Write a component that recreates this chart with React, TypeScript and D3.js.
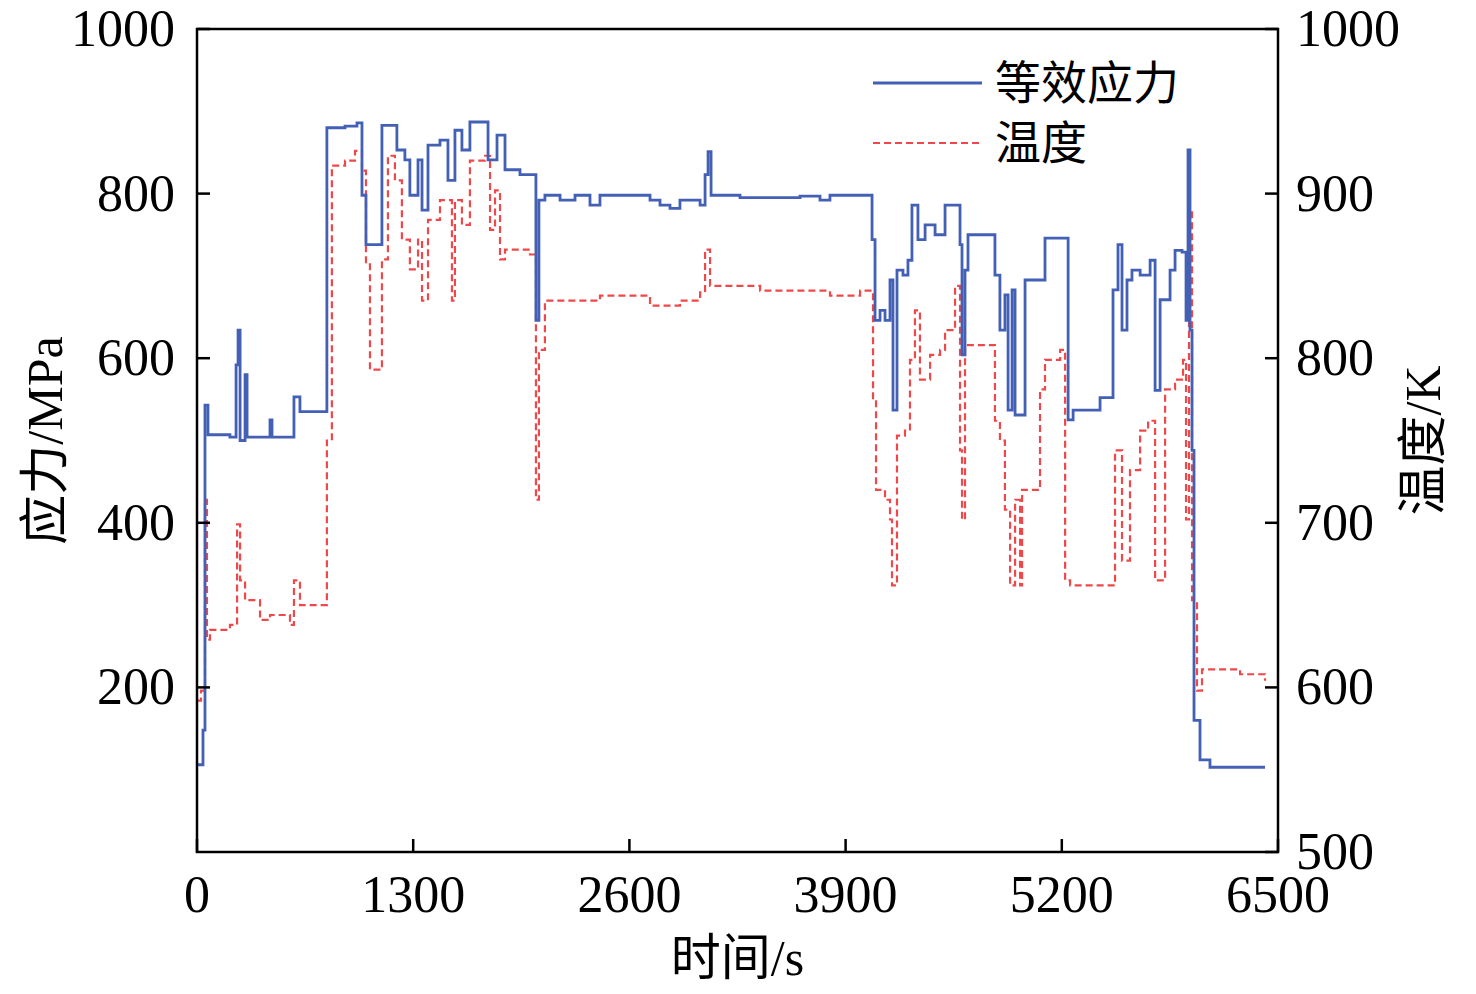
import * as React from 'react';
import * as d3 from 'd3';

const W = 1476, H = 994;
const M = {left: 197, right: 1278, top: 29, bottom: 852};

const xTicks = [0, 1300, 2600, 3900, 5200, 6500];
const stressTicks = [200, 400, 600, 800, 1000];
const tempTicks = [500, 600, 700, 800, 900, 1000];

// [time s, stress MPa]
const stress: [number, number][] = [
  [0, 106], [36, 148], [48, 543], [66, 507], [198, 504], [235, 592], [247, 634], [259, 500], [289, 580], [301, 504],
  [439, 525], [451, 504], [559, 504], [583, 553], [619, 535], [770, 535], [781, 880], [890, 882], [962, 886],
  [992, 798], [1016, 738], [1088, 738], [1112, 883], [1178, 883], [1202, 853], [1250, 841], [1280, 798],
  [1329, 841], [1353, 780], [1389, 859], [1461, 865], [1509, 816], [1551, 877], [1593, 853], [1641, 887],
  [1732, 887], [1750, 841], [1804, 871], [1852, 829], [1942, 823], [2020, 823], [2038, 646], [2056, 792],
  [2092, 798], [2183, 792], [2273, 798], [2363, 786], [2423, 798], [2724, 792], [2784, 786], [2844, 782],
  [2904, 792], [3025, 786], [3055, 823], [3073, 851], [3091, 798], [3265, 795], [3626, 797], [3746, 792],
  [3806, 798], [4035, 798], [4059, 744], [4077, 646], [4107, 658], [4137, 646], [4167, 695], [4185, 537],
  [4209, 707], [4245, 701], [4275, 719], [4299, 786], [4335, 744], [4378, 762], [4438, 750], [4498, 786],
  [4558, 786], [4588, 738], [4600, 604], [4618, 707], [4636, 750], [4768, 750], [4798, 701], [4828, 634],
  [4858, 677], [4877, 537], [4901, 683], [4919, 531], [4949, 531], [4979, 695], [5039, 695], [5099, 746],
  [5220, 746], [5238, 525], [5268, 537], [5400, 537], [5430, 552], [5490, 552], [5508, 683], [5538, 738],
  [5562, 634], [5592, 695], [5622, 707], [5671, 701], [5731, 719], [5761, 561], [5791, 671], [5851, 707],
  [5881, 731], [5923, 729], [5947, 646], [5959, 853], [5971, 634], [5983, 488], [5995, 160], [6031, 112],
  [6091, 103], [6422, 103]
];

// [time s, temperature K]
const temperature: [number, number][] = [
  [0, 592], [24, 598], [48, 714], [60, 629], [78, 635], [198, 638], [241, 699], [259, 665], [289, 653],
  [379, 641], [439, 644], [559, 638], [583, 665], [619, 650], [752, 650], [781, 750], [811, 917], [890, 920],
  [950, 926], [992, 914], [1016, 857], [1040, 793], [1088, 793], [1112, 860], [1148, 923], [1190, 908],
  [1232, 872], [1280, 854], [1329, 872], [1353, 835], [1389, 884], [1461, 896], [1533, 835], [1551, 896],
  [1593, 881], [1641, 920], [1732, 923], [1762, 878], [1792, 902], [1822, 860], [1852, 866], [2002, 863],
  [2038, 714], [2056, 805], [2092, 835], [2183, 835], [2423, 838], [2604, 838], [2724, 832], [2904, 835],
  [3025, 840], [3055, 866], [3085, 844], [3386, 841], [3626, 841], [3806, 838], [3987, 841], [4047, 841],
  [4065, 775], [4083, 720], [4137, 714], [4167, 702], [4179, 662], [4209, 753], [4257, 756], [4287, 799],
  [4317, 829], [4347, 787], [4408, 802], [4468, 805], [4498, 817], [4558, 844], [4588, 744], [4600, 702],
  [4618, 808], [4768, 808], [4798, 762], [4828, 750], [4858, 708], [4889, 662], [4919, 714], [4949, 662],
  [4961, 720], [5009, 720], [5069, 781], [5099, 799], [5190, 805], [5220, 665], [5250, 662], [5490, 662],
  [5520, 744], [5562, 677], [5610, 732], [5671, 756], [5719, 762], [5761, 665], [5821, 781], [5881, 787],
  [5929, 799], [5947, 702], [5965, 890], [5983, 653], [6013, 598], [6043, 611], [6272, 608], [6422, 604]
];

const FONT = '"Liberation Serif", "Times New Roman", "Noto Sans CJK SC", serif';
const BLUE = '#4360b5';
const RED = '#f0484a';

export default function App() {
  const x = d3.scaleLinear().domain([0, 6500]).range([M.left, M.right]);
  const yL = d3.scaleLinear().domain([0, 1000]).range([M.bottom, M.top]);
  const yR = d3.scaleLinear().domain([500, 1000]).range([M.bottom, M.top]);
  const lineS = d3.line<[number, number]>().x(d => x(d[0])).y(d => yL(d[1])).curve(d3.curveStepAfter);
  const lineT = d3.line<[number, number]>().x(d => x(d[0])).y(d => yR(d[1])).curve(d3.curveStepAfter);
  const tk = 13;

  return (
    <svg width={W} height={H} style={{position: 'absolute', left: 0, top: 0, background: '#fff'}} fontFamily={FONT}>
      <path d={lineT(temperature)!} fill="none" stroke={RED} strokeWidth={2.2} strokeDasharray="7,4" />
      <path d={lineS(stress)!} fill="none" stroke={BLUE} strokeWidth={2.8} />
      <rect x={M.left} y={M.top} width={M.right - M.left} height={M.bottom - M.top} fill="none" stroke="#000" strokeWidth={2.5} />
      {xTicks.map(t => (
        <g key={'x' + t}>
          <line x1={x(t)} x2={x(t)} y1={M.bottom} y2={M.bottom - tk} stroke="#000" strokeWidth={2.5} />
          <text x={x(t)} y={M.bottom + 60} fontSize={52} textAnchor="middle">{t}</text>
        </g>
      ))}
      {stressTicks.map(t => (
        <g key={'l' + t}>
          <line x1={M.left} x2={M.left + tk} y1={yL(t)} y2={yL(t)} stroke="#000" strokeWidth={2.5} />
          <text x={M.left - 22} y={yL(t) + 17} fontSize={52} textAnchor="end">{t}</text>
        </g>
      ))}
      {tempTicks.map(t => (
        <g key={'r' + t}>
          <line x1={M.right} x2={M.right - tk} y1={yR(t)} y2={yR(t)} stroke="#000" strokeWidth={2.5} />
          <text x={M.right + 18} y={yR(t) + 17} fontSize={52} textAnchor="start">{t}</text>
        </g>
      ))}
      <text x={(M.left + M.right) / 2} y={975} fontSize={50} textAnchor="middle">时间/s</text>
      <text transform={`translate(62,${(M.top + M.bottom) / 2}) rotate(-90)`} fontSize={50} textAnchor="middle">应力/MPa</text>
      <text transform={`translate(1440,${(M.top + M.bottom) / 2}) rotate(-90)`} fontSize={50} textAnchor="middle">温度/K</text>
      <line x1={873} x2={982} y1={83} y2={83} stroke={BLUE} strokeWidth={2.8} />
      <text x={995} y={99} fontSize={46}>等效应力</text>
      <line x1={873} x2={982} y1={143} y2={143} stroke={RED} strokeWidth={2.2} strokeDasharray="7,4" />
      <text x={995} y={159} fontSize={46}>温度</text>
    </svg>
  );
}
